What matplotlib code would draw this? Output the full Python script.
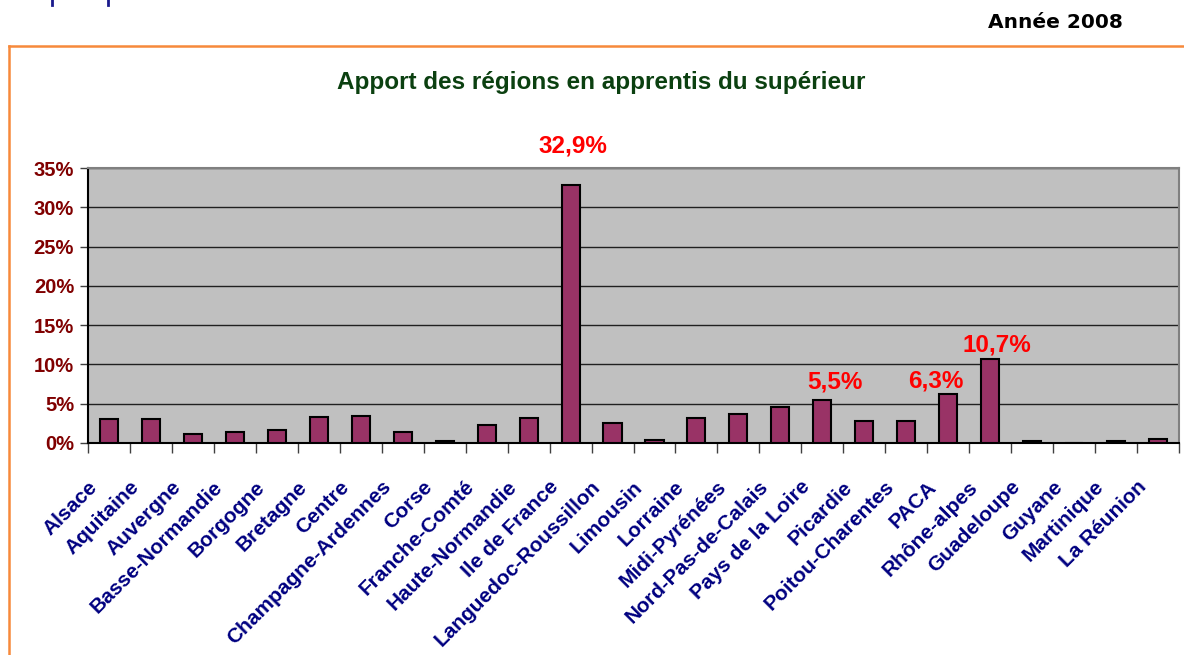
import matplotlib
matplotlib.use("Agg")
import matplotlib.pyplot as plt
from matplotlib.lines import Line2D
from matplotlib.ticker import FuncFormatter, MultipleLocator
from matplotlib.transforms import ScaledTranslation
import numpy as np

# data (percent of apprentices, 2008)
regions = ["Alsace", "Aquitaine", "Auvergne", "Basse-Normandie", "Borgogne", "Bretagne",
           "Centre", "Champagne-Ardennes", "Corse", "Franche-Comté", "Haute-Normandie",
           "Ile de France", "Languedoc-Roussillon", "Limousin", "Lorraine", "Midi-Pyrénées",
           "Nord-Pas-de-Calais", "Pays de la Loire", "Picardie", "Poitou-Charentes", "PACA",
           "Rhône-alpes", "Guadeloupe", "Guyane", "Martinique", "La Réunion"]
share = [3.0, 3.0, 1.2, 1.4, 1.6, 3.3, 3.5, 1.4, 0.2, 2.3, 3.2, 32.9, 2.5, 0.4, 3.2, 3.7,
         4.6, 5.5, 2.8, 2.8, 6.3, 10.7, 0.2, 0.0, 0.2, 0.5]
highlight = ["Ile de France", "Pays de la Loire", "PACA", "Rhône-alpes"]
highlight_text = ["32,9%", "5,5%", "6,3%", "10,7%"]
# label offsets in points (style only)
highlight_offset = [(2, 28), (9, 13), (-9, 9), (5, 10)]

FONT = ["Liberation Sans", "DejaVu Sans"]

fig = plt.figure(figsize=(11.84, 6.55), dpi=100)
ax = fig.add_axes([88 / 1184, 1 - 443 / 655, (1179 - 88) / 1184, 275 / 655])

x = np.arange(len(regions))
ax.set_facecolor("#C0C0C0")
ax.bar(x, share, width=0.43, color="#993366", edgecolor="black", linewidth=1.5, zorder=3)

ax.set_xlim(-0.5, len(regions) - 0.5)
ax.set_ylim(0, 35)
ax.yaxis.set_major_locator(MultipleLocator(5))
ax.yaxis.set_major_formatter(FuncFormatter(lambda v, p: "%d%%" % v))
ax.grid(axis="y", color="#202020", linewidth=1, zorder=1)
ax.set_axisbelow(True)

for lab in ax.get_yticklabels():
    lab.set_family(FONT)
    lab.set_fontweight("bold")
    lab.set_color("#800000")
    lab.set_fontsize(14.5)
ax.tick_params(axis="y", length=6, width=1, color="#404040", pad=4)

ax.set_xticks(x)
ax.set_xticklabels(regions, rotation=45, ha="right", va="center", rotation_mode="anchor",
                   family=FONT, fontweight="bold", color="#000080", fontsize=15)
ax.tick_params(axis="x", which="major", length=0, pad=0)
shift = ScaledTranslation(-0.15, -0.41, fig.dpi_scale_trans)
for lab in ax.get_xticklabels():
    lab.set_transform(lab.get_transform() + shift)
ax.set_xticks(np.arange(len(regions) + 1) - 0.5, minor=True)
ax.tick_params(axis="x", which="minor", length=7, width=1, color="#404040")

ax.spines["left"].set_color("black")
ax.spines["bottom"].set_color("black")
ax.spines["top"].set_color("#808080")
ax.spines["right"].set_color("#808080")
for s in ax.spines.values():
    s.set_linewidth(1.5)

for name, txt, off in zip(highlight, highlight_text, highlight_offset):
    i = regions.index(name)
    ax.annotate(txt, xy=(i, share[i]), xytext=off, textcoords="offset points",
                ha="center", va="center", color="#FF0000", fontweight="bold",
                family=FONT, fontsize=17.5, annotation_clip=False)

fig.text(601 / 1184, 1 - 82 / 655, "Apport des régions en apprentis du supérieur",
         ha="center", va="center", color="#0B4010", fontweight="bold",
         family=FONT, fontsize=17.5)
fig.text(1123 / 1184, 1 - 23 / 655, "Année 2008", ha="right", va="center",
         color="black", fontweight="bold", family="DejaVu Sans", fontsize=14.5)

# orange frame of the page
orange = "#F7893B"
fig.add_artist(Line2D([9 / 1184, 1], [1 - 46 / 655] * 2, color=orange, linewidth=1.8))
fig.add_artist(Line2D([9 / 1184] * 2, [0, 1 - 46 / 655], color=orange, linewidth=1.8))
# bits of the cut-off header text at the very top
for px in (52, 108):
    fig.add_artist(Line2D([px / 1184] * 2, [1, 1 - 5 / 655], color="#1A1A8C", linewidth=2))

fig.savefig("out.png", dpi=100)
